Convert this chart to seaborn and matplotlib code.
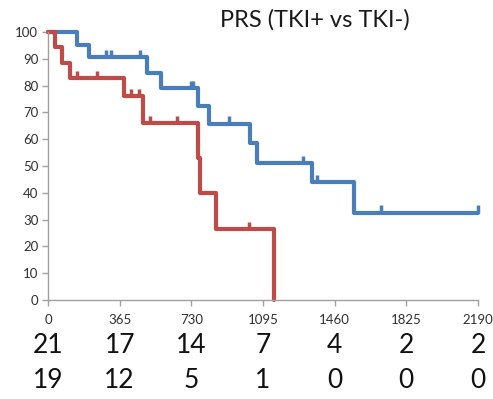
import numpy as np
import pandas as pd
import seaborn as sns
import matplotlib.pyplot as plt
from matplotlib.transforms import blended_transform_factory

# Kaplan-Meier steps (days, % surviving)
tki_pos_time = [0, 148, 209, 504, 576, 764, 820, 1029, 1065, 1345, 1559, 2190]
tki_pos_surv = [100, 95.2, 90.5, 84.7, 79.0, 72.4, 65.8, 58.5, 51.2, 43.9, 32.6, 32.6]
tki_pos_cens_t = [295, 321, 469, 730, 737, 922, 1299, 1370, 1696, 2190]
tki_pos_cens_s = [90.5, 90.5, 90.5, 79.0, 79.0, 65.8, 51.2, 43.9, 32.6, 32.6]

tki_neg_time = [0, 36, 72, 112, 387, 484, 764, 775, 856, 1151]
tki_neg_surv = [100, 94.5, 88.6, 82.7, 76.0, 66.0, 53.0, 39.8, 26.5, 0]
tki_neg_cens_t = [148, 250, 423, 464, 520, 657, 1024]
tki_neg_cens_s = [82.7, 82.7, 76.0, 76.0, 66.0, 66.0, 26.5]

tick_days = [0, 365, 730, 1095, 1460, 1825, 2190]
at_risk_pos = [21, 17, 14, 7, 4, 2, 2]
at_risk_neg = [19, 12, 5, 1, 0, 0, 0]

BLUE = "#4a7ebb"
RED = "#be4b48"

sns.set_style("white")
plt.rcParams['font.family'] = ['Lato', 'DejaVu Sans']

fig = plt.figure(figsize=(4.93, 3.99), dpi=100)
ax = fig.add_axes([48 / 493, 1 - 300 / 399, 430 / 493, 268 / 399])

# blue first so the red curve sits on top
df = pd.concat([
    pd.DataFrame({'day': tki_pos_time, 'surv': tki_pos_surv, 'grp': 'TKI+'}),
    pd.DataFrame({'day': tki_neg_time, 'surv': tki_neg_surv, 'grp': 'TKI-'}),
])
sns.lineplot(data=df, x='day', y='surv', hue='grp', palette={'TKI+': BLUE, 'TKI-': RED},
             hue_order=['TKI+', 'TKI-'], estimator=None, sort=False,
             drawstyle='steps-post', linewidth=3, legend=False, ax=ax, clip_on=False)

# censor marks sit just above the line
for ts, ss, c in [(tki_pos_cens_t, tki_pos_cens_s, BLUE), (tki_neg_cens_t, tki_neg_cens_s, RED)]:
    ax.scatter(ts, np.array(ss) + 1.2, marker='|', s=40, linewidths=2.5, color=c,
               clip_on=False, zorder=3)

ax.set_xlim(0, 2190)
ax.set_ylim(0, 100)
ax.set_xticks(tick_days)
ax.set_xticklabels([str(d) for d in tick_days])
ax.set_yticks(range(0, 101, 10))
ax.set_xlabel("")
ax.set_ylabel("")
ax.tick_params(axis='both', direction='out', length=4, width=1, color='#a0a0a0',
               labelsize=9.5, labelcolor='#303030')
ax.tick_params(axis='x', pad=6)
ax.tick_params(axis='y', pad=3)
ax.yaxis.set_ticks_position('left')
ax.xaxis.set_ticks_position('bottom')
ax.xaxis.set_zorder(6)
for side in ['top', 'right']:
    ax.spines[side].set_visible(False)
for side in ['left', 'bottom']:
    ax.spines[side].set_color('#a0a0a0')
    ax.spines[side].set_linewidth(1)

fig.text(315 / 493, 1 - 20 / 399, "PRS (TKI+ vs TKI-)", ha='center', va='center',
         fontsize=17, color='#1a1a1a')

# numbers at risk, placed under each day tick
tr = blended_transform_factory(ax.transData, ax.transAxes)
for d, a, b in zip(tick_days, at_risk_pos, at_risk_neg):
    fig.text(d, -0.168, str(a), transform=tr, ha='center', va='center', fontsize=19,
             color='#111111')
    fig.text(d, -0.30, str(b), transform=tr, ha='center', va='center', fontsize=19,
             color='#111111')

fig.savefig("out.png", dpi=100)
